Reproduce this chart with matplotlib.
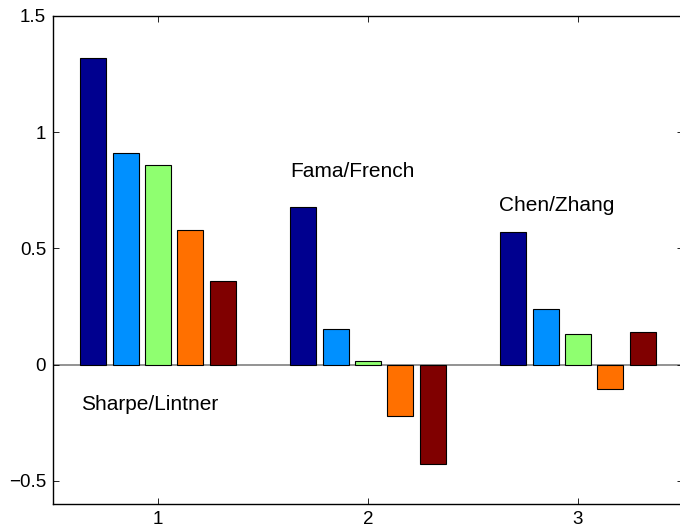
import matplotlib.pyplot as plt
import numpy as np

plt.rcParams['font.family'] = ['Liberation Sans', 'DejaVu Sans']

groups = [1, 2, 3]
series = [
    [1.32, 0.68, 0.572],   # dark blue
    [0.91, 0.151, 0.241],  # light blue
    [0.86, 0.014, 0.131],  # green
    [0.58, -0.22, -0.106], # orange
    [0.36, -0.43, 0.142],  # maroon
]
colors = ['#00008F', '#0090FF', '#8FFF70', '#FF7000', '#800000']
labels = [('Sharpe/Lintner', 0.635, -0.195),
          ('Fama/French', 1.628, 0.809),
          ('Chen/Zhang', 2.624, 0.659)]

W, H = 680, 529
fig = plt.figure(figsize=(W / 100, H / 100), dpi=100)
ax = fig.add_axes([53 / W, 25 / H, (683 - 53) / W, (504 - 16) / H])

n = len(series)
pitch = (n / (n + 1.5)) / n
x = np.array(groups, dtype=float)
for i, (vals, c) in enumerate(zip(series, colors)):
    off = (i - (n - 1) / 2) * pitch
    ax.bar(x + off, vals, width=0.8 * pitch, color=c, edgecolor='black',
           linewidth=0.8, zorder=2)

ax.axhline(0, color='#808080', linewidth=1.2, zorder=1)

for txt, tx, ty in labels:
    ax.text(tx, ty, txt, fontsize=15, ha='left', va='baseline')

ax.set_xlim(0.5, 3.5)
ax.set_ylim(-0.6, 1.5)
ax.set_xticks(groups)
ax.set_xticklabels(['1', '2', '3'])
ax.set_yticks([-0.5, 0, 0.5, 1, 1.5])
ax.set_yticklabels(['\u22120.5', '0', '0.5', '1', '1.5'])
ax.tick_params(direction='in', length=4, width=0.6, labelsize=13.5,
               top=True, right=True, pad=5)
for s in ax.spines.values():
    s.set_linewidth(1.0)

fig.savefig('out.png', dpi=100)
